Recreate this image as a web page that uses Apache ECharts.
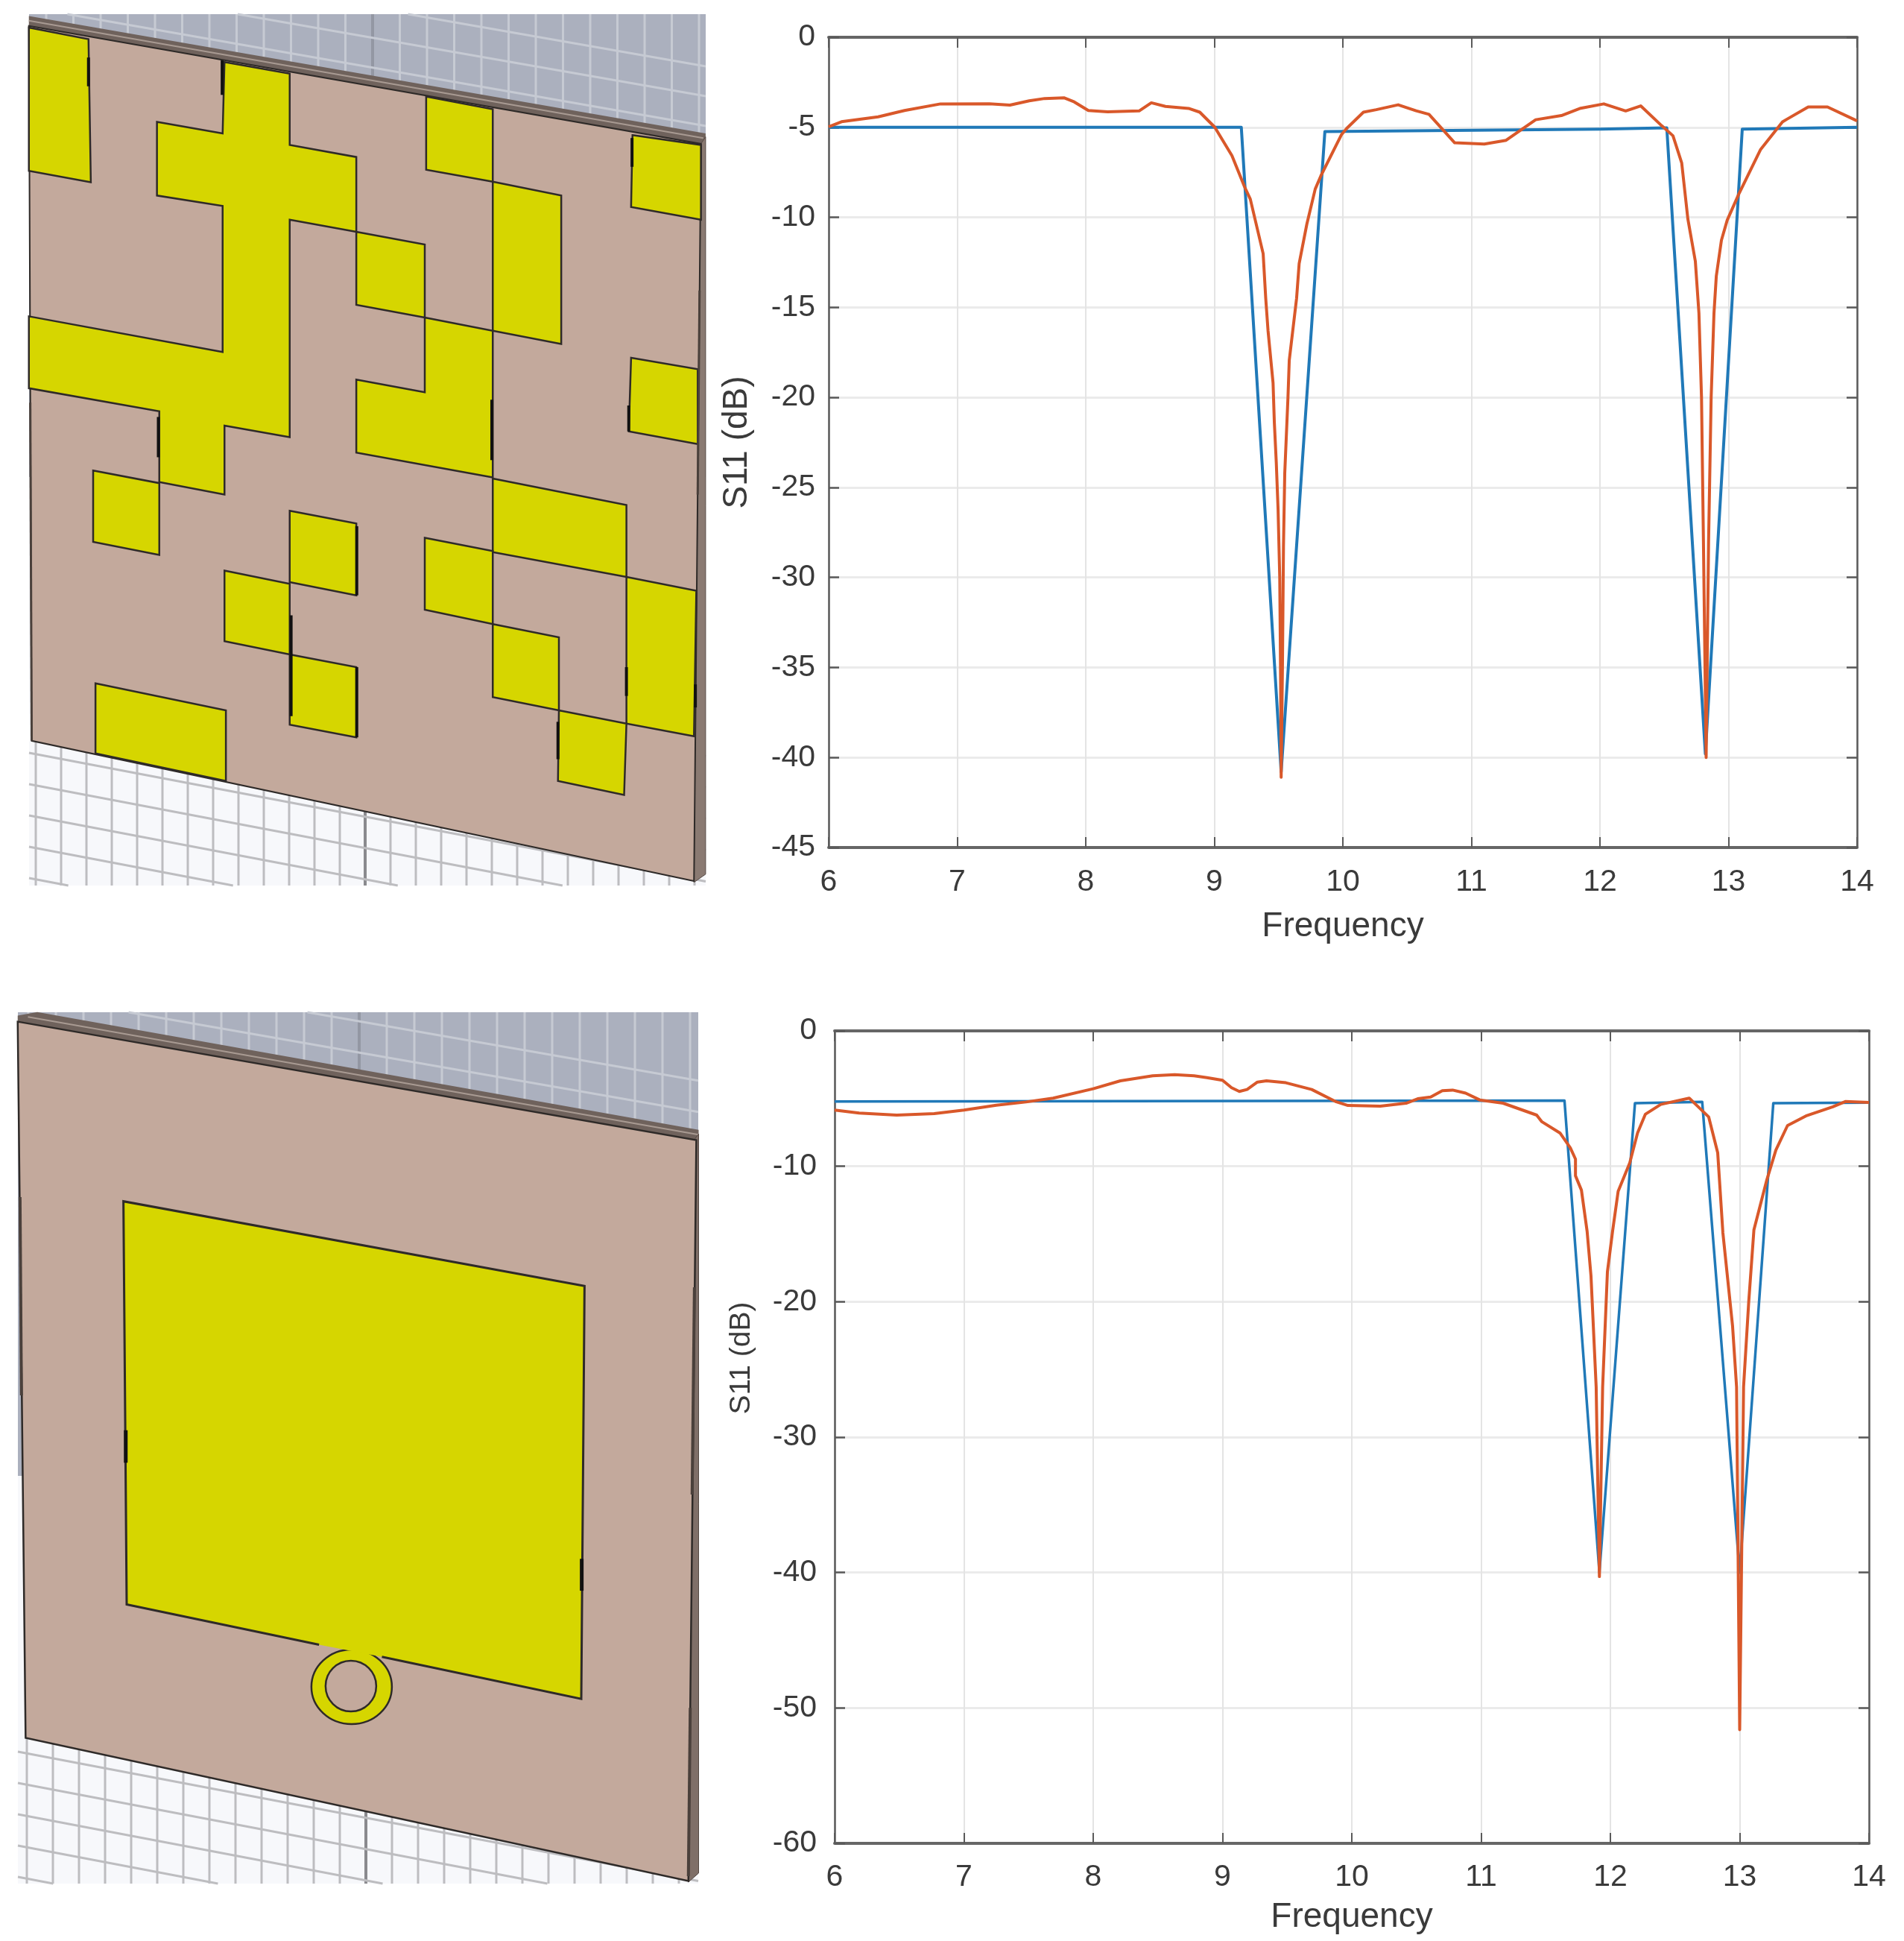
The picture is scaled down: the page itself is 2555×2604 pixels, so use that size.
<!DOCTYPE html>
<html>
<head>
<meta charset="utf-8">
<title>S11 charts</title>
<script src="https://cdn.jsdelivr.net/npm/echarts@6/dist/echarts.min.js"></script>
<style>html,body{margin:0;padding:0;background:#fff}#c{width:2555px;height:2604px}</style>
</head>
<body>
<div id="c"></div>
<script>
// ---------- chart data ----------
var blueFreq1 = [6, 9.21, 9.52, 9.86, 12.0, 12.52, 12.82, 13.107, 14];
var blueDb1   = [-5.0, -5.0, -40.8, -5.24, -5.1, -5.03, -39.8, -5.1, -5.0];
var redFreq1 = [6.0,6.10,6.385,6.59,6.87,7.25,7.41,7.56,7.68,7.83,7.91,8.02,8.17,8.415,8.51,8.62,8.80,8.887,9.003,9.137,9.235,9.28,9.38,9.40,9.418,9.457,9.467,9.482,9.496,9.509,9.515,9.52,9.53,9.538,9.548,9.573,9.583,9.64,9.66,9.72,9.785,9.83,9.99,10.03,10.16,10.26,10.43,10.57,10.67,10.87,11.10,11.27,11.50,11.70,11.85,12.03,12.20,12.317,12.48,12.568,12.636,12.684,12.742,12.77,12.79,12.805,12.826,12.845,12.865,12.887,12.905,12.945,12.99,13.08,13.25,13.42,13.45,13.62,13.77,14];
var redDb1   = [-4.97,-4.69,-4.42,-4.07,-3.70,-3.69,-3.77,-3.53,-3.40,-3.36,-3.59,-4.07,-4.14,-4.09,-3.64,-3.84,-3.95,-4.16,-4.99,-6.57,-8.30,-8.99,-12.02,-14.5,-16.3,-19.2,-21.4,-23.6,-26.2,-30,-35,-41.1,-35,-28.3,-24.2,-20,-17.95,-14.5,-12.57,-10.37,-8.43,-7.68,-5.4,-5.06,-4.16,-4.02,-3.75,-4.08,-4.28,-5.86,-5.93,-5.72,-4.58,-4.35,-3.94,-3.70,-4.09,-3.81,-4.91,-5.47,-6.98,-10.1,-12.44,-15.33,-20,-28,-40,-28,-20,-15.33,-13.27,-11.27,-10.16,-8.71,-6.23,-4.70,-4.57,-3.87,-3.87,-4.64];

var blueFreq2 = [6, 11.645, 11.915, 12.19, 12.71, 13.0, 13.26, 14];
var blueDb2   = [-5.22, -5.15, -40, -5.34, -5.24, -40, -5.34, -5.3];
var redFreq2 = [6.0,6.19,6.48,6.77,7.0,7.25,7.48,7.69,8.0,8.21,8.46,8.63,8.78,8.88,9.0,9.07,9.13,9.19,9.27,9.34,9.49,9.69,9.88,9.97,10.22,10.42,10.51,10.61,10.70,10.78,10.88,10.99,11.17,11.43,11.47,11.61,11.69,11.73,11.73,11.776,11.82,11.85,11.89,11.915,11.94,11.977,12.017,12.06,12.15,12.21,12.27,12.39,12.61,12.66,12.76,12.83,12.87,12.945,12.976,13.0,13.03,13.07,13.11,13.21,13.28,13.37,13.52,13.72,13.82,14];
var redDb2   = [-5.85,-6.07,-6.22,-6.11,-5.85,-5.49,-5.25,-4.97,-4.27,-3.69,-3.32,-3.23,-3.32,-3.45,-3.65,-4.2,-4.47,-4.33,-3.78,-3.69,-3.83,-4.33,-5.24,-5.51,-5.56,-5.34,-5.01,-4.88,-4.42,-4.37,-4.6,-5.1,-5.34,-6.22,-6.71,-7.54,-8.64,-9.47,-10.7,-11.76,-14.8,-18.1,-26.3,-40.3,-26.3,-17.8,-14.8,-11.85,-9.74,-7.54,-6.16,-5.43,-4.97,-5.43,-6.35,-9.0,-14.9,-21.8,-26.3,-51.6,-26.3,-20,-14.7,-11,-8.8,-6.99,-6.25,-5.61,-5.21,-5.28];

var xTitle = 'Frequency';
var yTitle = 'S11 (dB)';

function zip(a, b) { return a.map(function (v, i) { return [v, b[i]]; }); }

// ---------- antenna illustrations (not data) ----------
var COPPER = '#d6d600', BOARD = '#c3a99c', EDGE = '#2e2a28';
var gfx = [];
function poly(pts, fill, stroke, lw) {
  gfx.push({ type: 'polygon', silent: true, shape: { points: pts },
    style: { fill: fill, stroke: stroke || null, lineWidth: lw || 0, lineJoin: 'miter' } });
}
function pline(pts, stroke, lw) {
  gfx.push({ type: 'polyline', silent: true, shape: { points: pts },
    style: { fill: null, stroke: stroke, lineWidth: lw } });
}
function hatch(box, sets) {
  sets.forEach(function (s) {
    for (var x = s.xStart; x < box.r; x += s.xStep) {
      var heavy = s.heavyX && Math.abs(x - s.heavyX) < s.xStep / 2;
      pline([[x, s.top], [x, s.bottom]], heavy ? s.heavy : s.color, heavy ? 4 : 3);
    }
    for (var y = s.yStart; y < s.bottom + 400; y += s.yStep) {
      var x0 = box.l, x1 = box.r, y0 = y + s.slope * (x0 - box.l), y1 = y + s.slope * (x1 - box.l);
      if (y0 < s.top) { x0 = box.l + (s.top - y) / s.slope; y0 = s.top; }
      if (y1 > s.bottom) { x1 = box.l + (s.bottom - y) / s.slope; y1 = s.bottom; }
      if (x0 < x1 && y0 < y1) pline([[x0, y0], [x1, y1]], s.color, 3);
    }
  });
}

// panel 1
function T1(p) { return [p[0] / 1.6, p[1] / 1.296]; }
function P1(list) { return list.map(T1); }
(function () {
  var box = { l: 39, r: 947, t: 19, b: 1188 };
  poly([[box.l, box.t], [box.r, box.t], [box.r, 640], [box.l, 640]], '#abb0be');
  poly([[box.l, 640], [box.r, 640], [box.r, box.b], [box.l, box.b]], '#f7f8fb');
  hatch(box, [
    { top: box.t, bottom: 200, xStart: 62, xStep: 36.5, yStart: -70, yStep: 40, slope: 0.175, color: '#c6cad3', heavyX: 497, heavy: '#9397a3' },
    { top: 980, bottom: box.b, xStart: 48, xStep: 34, yStart: 800, yStep: 42, slope: 0.19, color: '#bdbdc0', heavyX: 497, heavy: '#8a8a8e' }
  ]);
  poly(P1([[62, 28], [1515, 232], [1515, 245], [1505, 252], [62, 47]]), '#6f625c');
  pline(P1([[62, 36], [1510, 240]]), '#a89a92', 2);
  poly(P1([[1505, 250], [1515, 238], [1515, 1520], [1490, 1534]]), '#8a7a72', '#554944', 1);
  poly(P1([[62, 45], [1505, 250], [1490, 1532], [68, 1288]]), BOARD, EDGE, 2);
  var shapes = [
    [[62,48],[190,68],[195,317],[62,297]],
    [[482,108],[622,128],[622,252],[765,273],[765,403],[622,382],[622,760],[482,740],[482,860],[342,838],[342,715],[62,675],[62,550],[478,612],[478,358],[337,340],[337,212],[478,232]],
    [[915,168],[1058,190],[1058,316],[915,295]],
    [[1358,235],[1505,252],[1505,382],[1355,360]],
    [[1058,316],[1205,340],[1205,598],[1058,575]],
    [[765,403],[912,425],[912,552],[765,530]],
    [[912,552],[1058,575],[1058,830],[765,787],[765,660],[912,682]],
    [[1355,622],[1498,642],[1498,772],[1350,750]],
    [[200,818],[342,840],[342,965],[200,942]],
    [[1058,832],[1345,878],[1345,1003],[1058,960]],
    [[912,935],[1058,958],[1058,1085],[912,1060]],
    [[622,888],[765,910],[765,1035],[622,1012]],
    [[482,992],[622,1015],[622,1138],[482,1115]],
    [[622,1138],[765,1160],[765,1282],[622,1260]],
    [[1058,1085],[1200,1108],[1200,1235],[1058,1212]],
    [[1345,1003],[1495,1027],[1490,1280],[1345,1258]],
    [[1200,1235],[1345,1258],[1340,1382],[1198,1358]],
    [[205,1188],[485,1235],[485,1358],[205,1310]]
  ];
  shapes.forEach(function (s) { poly(P1(s), COPPER, EDGE, 2.5); });
  [[[190,100],[190,150]],[[477,105],[477,165]],[[1357,240],[1357,290]],[[340,725],[340,795]],[[1056,695],[1056,800]],[[1350,705],[1350,750]],[[766,915],[766,1035]],[[625,1070],[625,1245]],[[766,1160],[766,1282]],[[1345,1160],[1345,1210]],[[1198,1255],[1198,1320]],[[1493,1190],[1493,1230]]].forEach(function (s) { pline(P1(s), '#111', 4); });
  pline(P1([[65, 700], [68, 1288]]), '#4a403b', 3);
  pline(P1([[1502, 505], [1498, 860]]), '#4a403b', 3);
})();

// panel 2
function T2(p) { return [p[0] / 1.6, 1340 + p[1] / 1.2405]; }
function P2(list) { return list.map(T2); }
(function () {
  var box = { l: 24, r: 937, t: 1358, b: 2527 };
  poly([[box.l, box.t], [box.r, box.t], [box.r, 1980], [box.l, 1980]], '#abb0be');
  poly([[box.l, 1980], [box.r, 1980], [box.r, box.b], [box.l, box.b]], '#f7f8fb');
  hatch(box, [
    { top: box.t, bottom: 1525, xStart: 38, xStep: 37, yStart: 1290, yStep: 42, slope: 0.175, color: '#c6cad3', heavyX: 488, heavy: '#9397a3' },
    { top: 2310, bottom: box.b, xStart: 36, xStep: 35, yStart: 2140, yStep: 42, slope: 0.19, color: '#bdbdc0', heavyX: 488, heavy: '#8a8a8e' }
  ]);
  poly(P2([[38, 28], [80, 22], [1500, 218], [1500, 236], [38, 40]]), '#6f625c');
  pline(P2([[60, 30], [1500, 226]]), '#a89a92', 2);
  poly(P2([[1490, 235], [1500, 225], [1500, 1455], [1478, 1470]]), '#7f6f68', '#554944', 1);
  poly(P2([[38, 38], [1495, 235], [1478, 1468], [55, 1230]]), BOARD, EDGE, 2.5);
  // feed ring, patch and ring hole
  var c = T2([755, 1145]);
  gfx.push({ type: 'ellipse', silent: true, shape: { cx: c[0], cy: c[1], rx: 54, ry: 50 }, style: { fill: COPPER, stroke: EDGE, lineWidth: 2.5 } });
  var patch = [[265,337],[1255,478],[1248,1165],[820,1095],[685,1075],[272,1008]];
  poly(P2(patch), COPPER);
  pline(P2([[685,1075],[272,1008],[265,337],[1255,478],[1248,1165],[820,1095]]), EDGE, 3);
  gfx.push({ type: 'ellipse', silent: true, shape: { cx: c[0] - 1, cy: c[1] - 1, rx: 34, ry: 34 }, style: { fill: BOARD, stroke: EDGE, lineWidth: 2.5 } });
  [[[270,718],[270,772]],[[1249,932],[1249,985]]].forEach(function (s) { pline(P2(s), '#111', 5); });
  pline(P2([[43, 330], [46, 660]]), '#4a403b', 4);
  pline(P2([[1491, 480], [1486, 825]]), '#4a403b', 4);
  pline(P2([[1482, 1180], [1478, 1460]]), '#4a403b', 4);
})();

// ---------- axes ----------
var FONT = '"Liberation Sans", Arial, sans-serif', TXT = '#3a3a3a', AX = '#5a5a5a';
function xAxes(grid, axisW, gap, margin) {
  var base = { type: 'value', gridIndex: grid, min: 6, max: 14, interval: 1, scale: true,
    axisLine: { show: true, onZero: false, lineStyle: { color: '#666', width: axisW } },
    axisTick: { show: true, inside: true, length: 14, lineStyle: { color: AX, width: 2 } } };
  return [
    Object.assign({}, base, { position: 'bottom', name: xTitle, nameLocation: 'middle', nameGap: gap,
      nameTextStyle: { fontFamily: FONT, fontSize: 46, color: TXT },
      axisLabel: { show: true, fontFamily: FONT, fontSize: 41, color: TXT, margin: margin, showMinLabel: true, showMaxLabel: true },
      splitLine: { show: true, lineStyle: { color: '#e4e4e4', width: 2 } } }),
    Object.assign({}, base, { position: 'top', axisLabel: { show: false }, splitLine: { show: false } })
  ];
}
function yAxes(grid, lo, step, gap, fs, pad, margin) {
  var base = { type: 'value', gridIndex: grid, min: lo, max: 0, interval: step,
    axisLine: { show: true, onZero: false, lineStyle: { color: AX, width: 2.5 } },
    axisTick: { show: true, inside: true, length: 14, lineStyle: { color: AX, width: 2.5 } } };
  return [
    Object.assign({}, base, { position: 'left', name: yTitle, nameLocation: 'middle', nameRotate: 90, nameGap: gap,
      nameTextStyle: { fontFamily: FONT, fontSize: fs, color: TXT, padding: pad },
      axisLabel: { show: true, fontFamily: FONT, fontSize: 41, color: TXT, margin: margin, showMinLabel: true, showMaxLabel: true },
      splitLine: { show: true, lineStyle: { color: '#ebebeb', width: 3 } } }),
    Object.assign({}, base, { position: 'right', axisLabel: { show: false }, splitLine: { show: false } })
  ];
}
function line(name, data, color, w, xi, yi) {
  return { name: name, type: 'line', data: data, xAxisIndex: xi, yAxisIndex: yi, showSymbol: false, symbol: 'none',
    lineStyle: { color: color, width: w, join: 'round' }, emphasis: { disabled: true }, silent: true, z: 5 };
}

var BLUE = '#2079b8', RED = '#d9582a';
var chart = echarts.init(document.getElementById('c'), null, { renderer: 'canvas' });
chart.setOption({
  animation: false,
  backgroundColor: '#ffffff',
  grid: [
    { left: 1112, top: 50, width: 1380, height: 1087, containLabel: false },
    { left: 1120, top: 1383, width: 1388, height: 1090, containLabel: false }
  ],
  xAxis: xAxes(0, 4, 83, 26).concat(xAxes(1, 4, 76, 25)),
  yAxis: yAxes(0, -45, 5, 100, 46, 0, 18).concat(yAxes(1, -60, 10, 105, 39, [0, 0, 0, 212], 24)),
  series: [
    line('Simulated 1', zip(blueFreq1, blueDb1), BLUE, 4, 0, 0),
    line('Measured 1', zip(redFreq1, redDb1), RED, 4, 0, 0),
    line('Simulated 2', zip(blueFreq2, blueDb2), BLUE, 3.5, 2, 2),
    line('Measured 2', zip(redFreq2, redDb2), RED, 4, 2, 2)
  ],
  graphic: { elements: gfx }
});
</script>
</body>
</html>
